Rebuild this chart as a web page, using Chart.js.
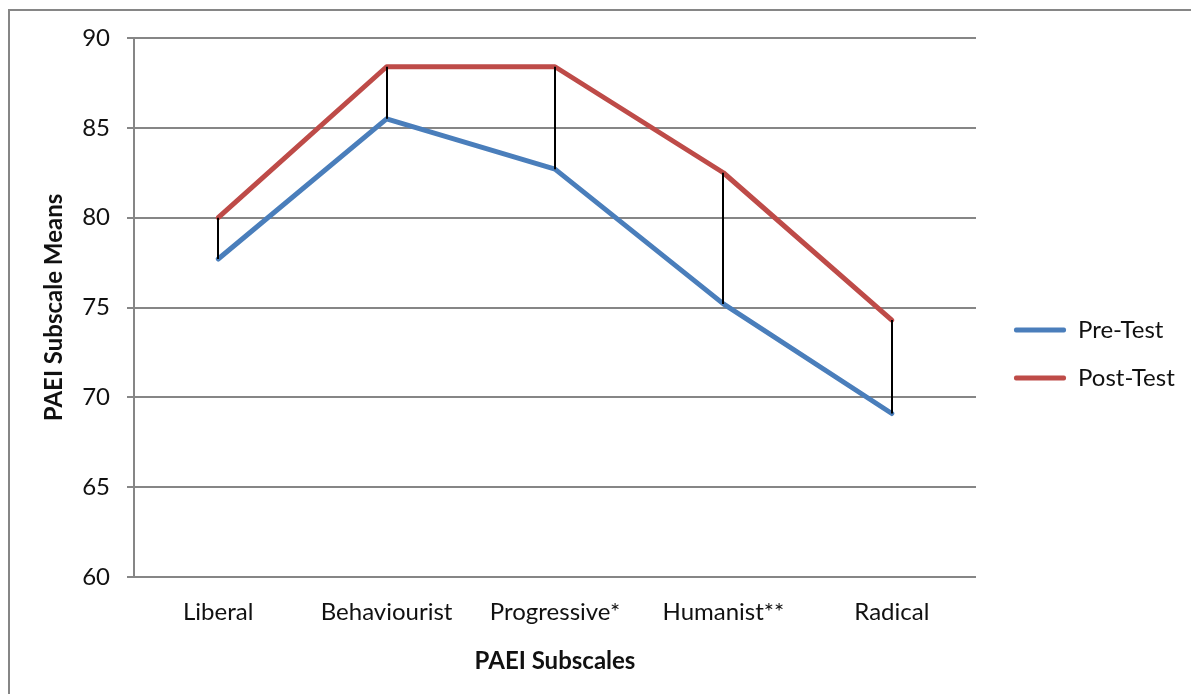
<!DOCTYPE html>
<html>
<head>
<meta charset="utf-8">
<script src="https://cdn.jsdelivr.net/npm/chart.js@4.4.1/dist/chart.umd.min.js"></script>
<style>
  html, body { margin: 0; padding: 0; background: #ffffff; }
  #wrap { width: 1191px; height: 694px; position: relative; }
  canvas { display: block; }
</style>
</head>
<body>
<div id="wrap"><canvas id="chart" width="1191" height="694"></canvas></div>
<script>
// PAEI subscale means, before and after the course
const subscales = ['Liberal', 'Behaviourist', 'Progressive*', 'Humanist**', 'Radical'];
const preTest = [77.7, 85.5, 82.7, 75.2, 69.1];
const postTest = [80.0, 88.4, 88.4, 82.5, 74.3];
const yTicks = [60, 65, 70, 75, 80, 85, 90];
const seriesNames = ['Pre-Test', 'Post-Test'];

const FONT = 'Lato, "Open Sans", sans-serif';
const TEXT = '#111111';
const GRID = '#868686';
const PRE = '#4A7EBB';
const POST = '#BE4B48';
const LABEL_SIZE = 24;
const TITLE_SIZE = 24;

// Outer frame of the chart object (only its top and left edges fall inside the canvas)
const framePlugin = {
  id: 'frame',
  beforeDraw(chart) {
    const c = chart.ctx;
    c.save();
    c.strokeStyle = GRID;
    c.lineWidth = 2;
    c.beginPath();
    c.moveTo(9, chart.height);
    c.lineTo(9, 10);
    c.lineTo(chart.width, 10);
    c.stroke();
    c.restore();
  }
};

// Vertical high-low lines joining the two series at each subscale
const highLowPlugin = {
  id: 'highLow',
  afterDatasetsDraw(chart) {
    const c = chart.ctx;
    const xs = chart.scales.x, ys = chart.scales.y;
    c.save();
    c.strokeStyle = '#000000';
    c.lineWidth = 2;
    subscales.forEach((_, i) => {
      const x = Math.round(xs.getPixelForValue(i));
      c.beginPath();
      c.moveTo(x, ys.getPixelForValue(postTest[i]));
      c.lineTo(x, ys.getPixelForValue(preTest[i]));
      c.stroke();
    });
    c.restore();
  }
};

// Puts the legend entries in their column to the right of the plot
const legendPlacePlugin = {
  id: 'legendPlace',
  afterLayout(chart) {
    const lg = chart.legend;
    const pad = lg.options.labels.padding;
    const dx = 1014 - (lg.left + pad);
    lg.left += dx; lg.right += dx;
    const dy = (330 - LABEL_SIZE / 2 - pad) - lg.top;
    lg.top += dy; lg.bottom += dy;
  }
};

new Chart(document.getElementById('chart'), {
  type: 'line',
  data: {
    labels: subscales,
    datasets: [
      {
        label: seriesNames[0], data: preTest,
        borderColor: PRE, backgroundColor: PRE, borderWidth: 5,
        pointRadius: 0, pointHoverRadius: 0, tension: 0, fill: false,
        borderCapStyle: 'round', borderJoinStyle: 'round'
      },
      {
        label: seriesNames[1], data: postTest,
        borderColor: POST, backgroundColor: POST, borderWidth: 5,
        pointRadius: 0, pointHoverRadius: 0, tension: 0, fill: false,
        borderCapStyle: 'round', borderJoinStyle: 'round'
      }
    ]
  },
  options: {
    responsive: false,
    animation: false,
    devicePixelRatio: 1,
    layout: { padding: { top: 38, left: 0, right: 0, bottom: 0 } },
    plugins: {
      legend: {
        position: 'right',
        align: 'start',
        labels: {
          font: { family: FONT, size: LABEL_SIZE },
          color: TEXT,
          boxWidth: 52,
          boxHeight: 5,
          padding: 24,
          useBorderRadius: true,
          borderRadius: 2,
          generateLabels(chart) {
            const items = Chart.defaults.plugins.legend.labels.generateLabels(chart);
            items.forEach(it => { it.lineWidth = 0; });
            return items;
          }
        }
      },
      tooltip: { enabled: false }
    },
    scales: {
      x: {
        type: 'category',
        offset: true,
        grid: { display: false, drawTicks: false },
        border: { display: false },
        ticks: { font: { family: FONT, size: LABEL_SIZE }, color: TEXT, padding: 21, maxRotation: 0 },
        title: {
          display: true, text: 'PAEI Subscales', color: TEXT,
          font: { family: FONT, size: TITLE_SIZE, weight: 'bold' },
          padding: { top: 0, bottom: 18 }
        },
        afterFit(s) { s.height = 117; }
      },
      y: {
        min: 60, max: 90,
        afterBuildTicks(s) { s.ticks = yTicks.map(v => ({ value: v })); },
        ticks: { font: { family: FONT, size: LABEL_SIZE }, color: TEXT, padding: 17 },
        grid: { color: GRID, lineWidth: 2, tickLength: 7, drawTicks: true },
        border: { display: true, color: GRID, width: 2 },
        title: {
          display: true, text: 'PAEI Subscale Means', color: TEXT,
          font: { family: FONT, size: TITLE_SIZE, weight: 'bold' },
          padding: { top: 40, bottom: 0 }
        },
        afterFit(s) { s.width = 134; }
      },
      gap: {
        type: 'linear',
        position: 'right',
        display: true,
        grid: { display: false, drawTicks: false },
        border: { display: false },
        ticks: { display: false },
        afterFit(s) { s.width = Math.max(0, 215 - s.chart.legend.width); }
      }
    }
  },
  plugins: [framePlugin, highLowPlugin, legendPlacePlugin]
});
</script>
</body>
</html>
